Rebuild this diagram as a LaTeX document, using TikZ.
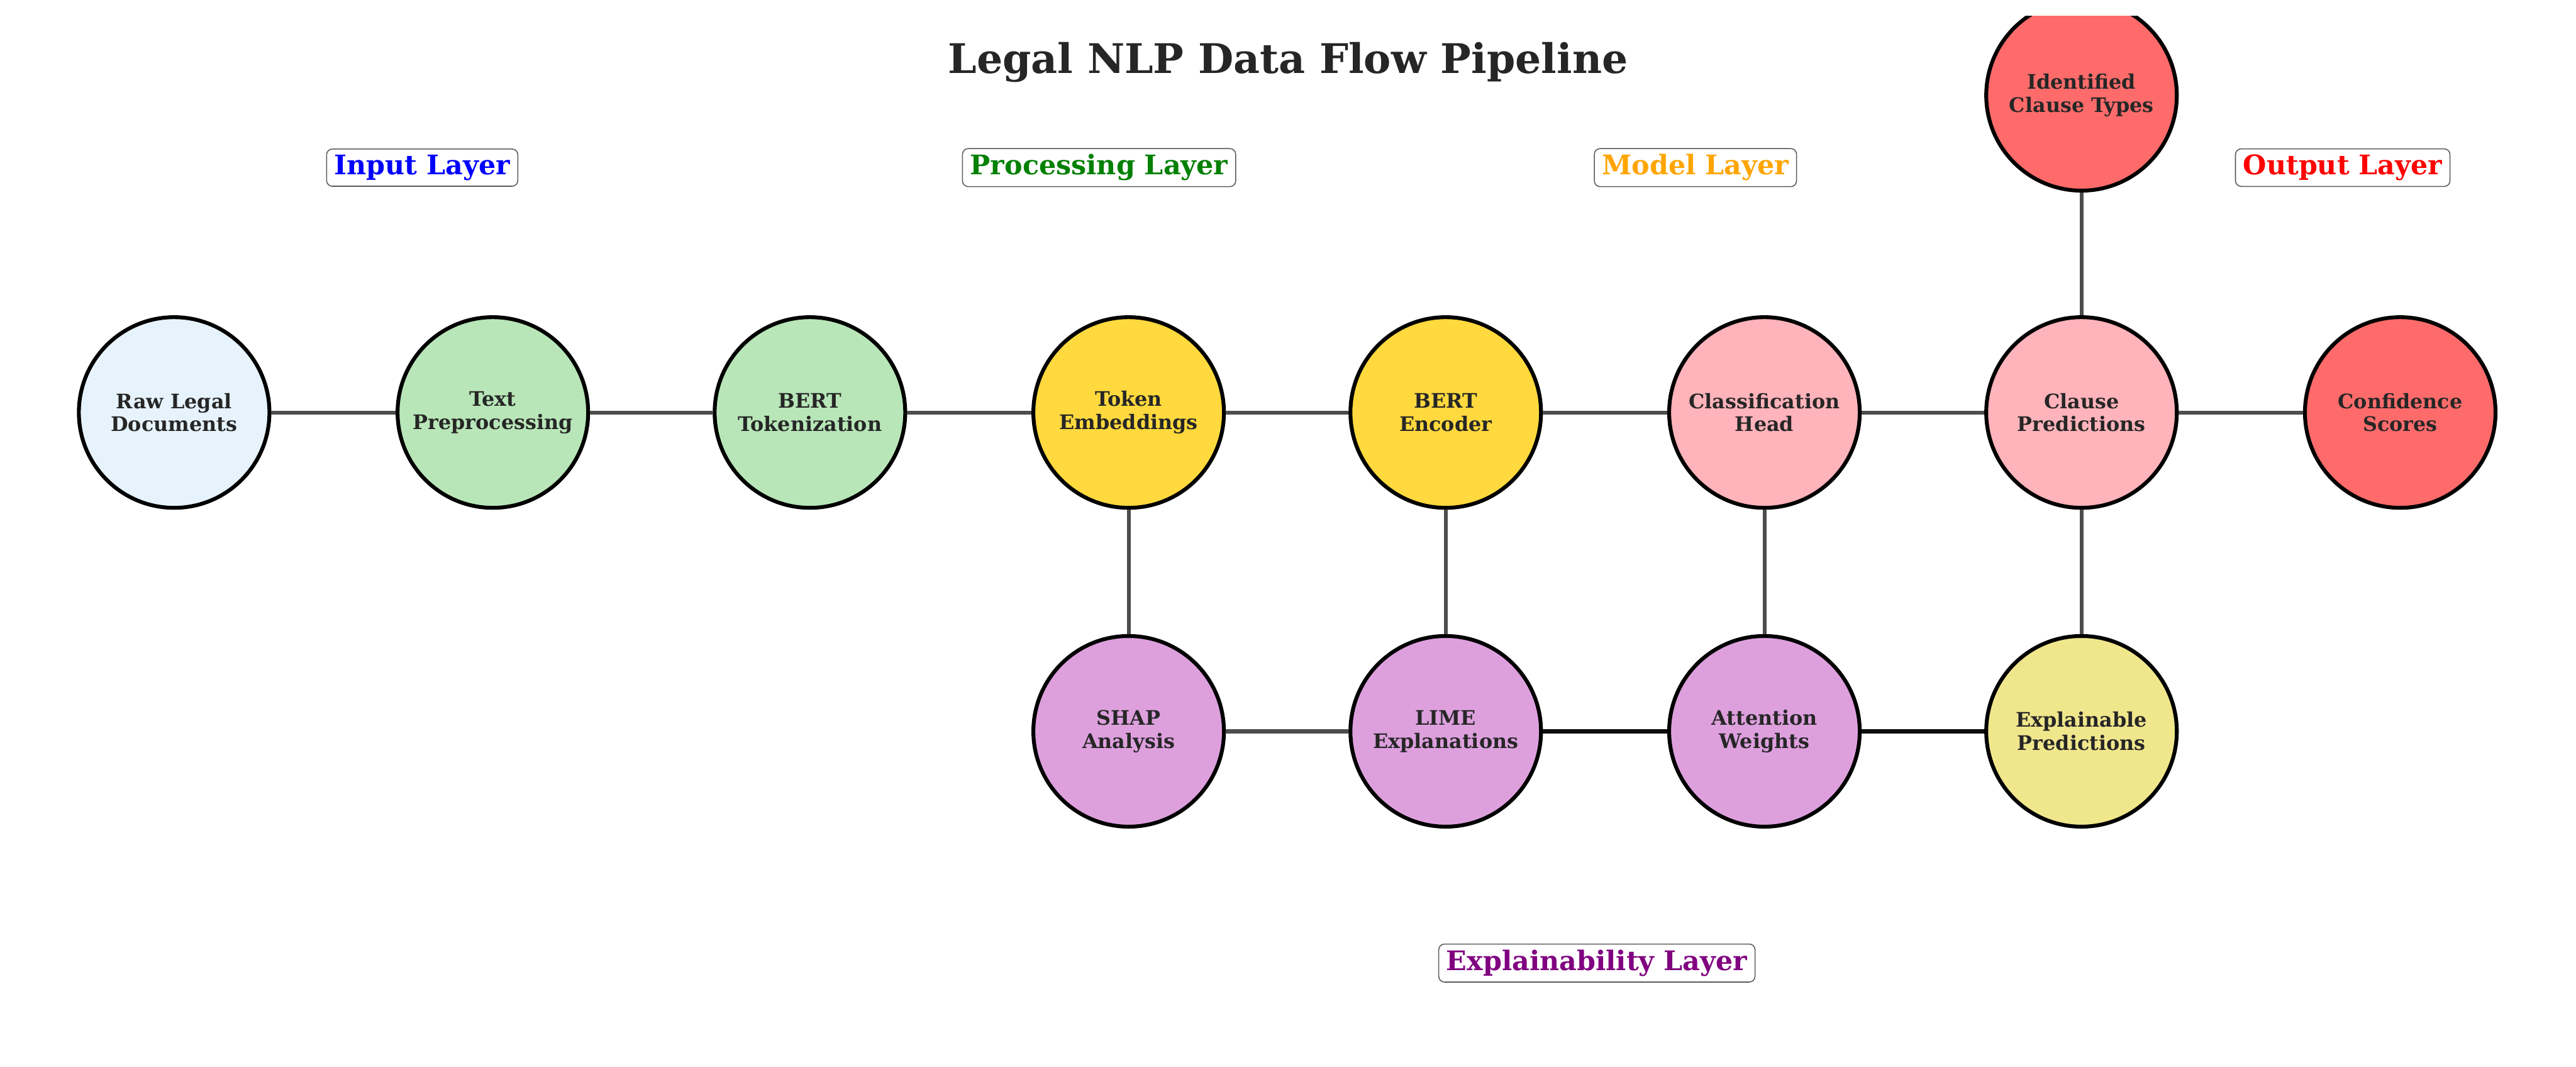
\documentclass[tikz,border=0pt]{standalone}
\usepackage{fontspec}
\setmainfont{DejaVu Serif}
\usepackage{xcolor}
\usetikzlibrary{shapes,arrows,positioning,calc}
\definecolor{rawblue}{HTML}{E6F3FC}
\definecolor{prepgreen}{HTML}{B8E6B8}
\definecolor{embgold}{HTML}{FFD93D}
\definecolor{headpink}{HTML}{FFB3BA}
\definecolor{outred}{HTML}{FF6B6B}
\definecolor{xplum}{HTML}{DDA0DD}
\definecolor{xkhaki}{HTML}{F0E68C}
\definecolor{edgegray}{HTML}{4D4D4D}
\definecolor{labgreen}{HTML}{008000}
\definecolor{laborange}{HTML}{FFA500}
\definecolor{labpurple}{HTML}{800080}

\tikzset{
  stage/.style={circle, draw=black, line width=2pt, minimum size=3.48cm, inner sep=0pt,
    align=center, text=black!85, font=\bfseries\fontsize{10.4}{12}\selectfont},
  layerlabel/.style={draw=black!65, fill=white, rounded corners=3pt, line width=0.5pt,
    inner xsep=4pt, inner ysep=3pt, font=\bfseries\fontsize{14}{16}\selectfont},
  link/.style={draw=edgegray, line width=2pt},
  strong/.style={draw=black!95, line width=2.3pt}
}

\begin{document}
\begin{tikzpicture}[x=0.03cm, y=-0.03cm]
    \useasboundingbox (0,0) rectangle (1568,649);
    \clip (0,9.7) rectangle (1568,649);

    % title and layer labels
    \node[font=\bfseries\fontsize{21.2}{24}\selectfont, text=black!85] (title) at (784,38) {Legal NLP Data Flow Pipeline};
    \node[layerlabel, text=blue] (linput) at (257,102) {Input Layer};
    \node[layerlabel, text=labgreen] (lproc) at (669,102) {Processing Layer};
    \node[layerlabel, text=laborange] (lmodel) at (1032,102) {Model Layer};
    \node[layerlabel, text=red] (loutput) at (1426,102) {Output Layer};
    \node[layerlabel, text=labpurple] (lexpl) at (972,586) {Explainability Layer};

    % main row
    \node[stage, fill=rawblue] (raw) at (106,251) {Raw Legal\\Documents};
    \node[stage, fill=prepgreen] (prep) at (300,251) {Text\\Preprocessing};
    \node[stage, fill=prepgreen] (tok) at (493,251) {BERT\\Tokenization};
    \node[stage, fill=embgold] (emb) at (687,251) {Token\\Embeddings};
    \node[stage, fill=embgold] (enc) at (880,251) {BERT\\Encoder};
    \node[stage, fill=headpink] (head) at (1074,251) {Classification\\Head};
    \node[stage, fill=headpink] (pred) at (1267,251) {Clause\\Predictions};
    \node[stage, fill=outred] (conf) at (1461,251) {Confidence\\Scores};
    \node[stage, fill=outred] (types) at (1267,58) {Identified\\Clause Types};

    % explainability row
    \node[stage, fill=xplum] (shap) at (687,445) {SHAP\\Analysis};
    \node[stage, fill=xplum] (lime) at (880,445) {LIME\\Explanations};
    \node[stage, fill=xplum] (attn) at (1074,445) {Attention\\Weights};
    \node[stage, fill=xkhaki] (expl) at (1267,445) {Explainable\\Predictions};

    % connectors
    \draw[link] (raw) -- (prep);
    \draw[link] (prep) -- (tok);
    \draw[link] (tok) -- (emb);
    \draw[link] (emb) -- (enc);
    \draw[link] (enc) -- (head);
    \draw[link] (head) -- (pred);
    \draw[link] (pred) -- (conf);
    \draw[link] (pred) -- (types);
    \draw[link] (emb) -- (shap);
    \draw[link] (enc) -- (lime);
    \draw[link] (head) -- (attn);
    \draw[link] (pred) -- (expl);
    \draw[link] (shap) -- (lime);
    \draw[strong] (lime) -- (attn);
    \draw[strong] (attn) -- (expl);
\end{tikzpicture}
\end{document}
